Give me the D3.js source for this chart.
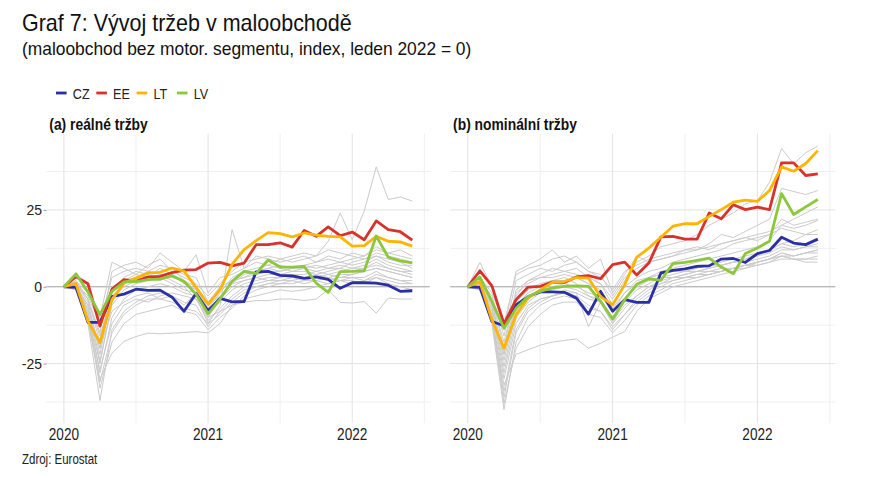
<!DOCTYPE html>
<html>
<head>
<meta charset="utf-8">
<script src="https://cdn.jsdelivr.net/npm/d3@7"></script>
<style>
  html, body { margin: 0; padding: 0; background: #fff; }
  text { font-family: "Liberation Sans", Arial, Helvetica, sans-serif; }
</style>
</head>
<body>
<svg id="chart" width="870" height="478"></svg>
<script>
// ---------- data ----------
const months = ["2020-01","2020-02","2020-03","2020-04","2020-05","2020-06","2020-07","2020-08","2020-09","2020-10","2020-11","2020-12",
                "2021-01","2021-02","2021-03","2021-04","2021-05","2021-06","2021-07","2021-08","2021-09","2021-10","2021-11","2021-12",
                "2022-01","2022-02","2022-03","2022-04","2022-05","2022-06"];
const yearTicks = ["2020-01","2021-01","2022-01"];
const yearLabels = ["2020","2021","2022"];
const halfYearTicks = ["2020-07","2021-07","2022-07"];
const yTicks = [-25, 0, 25];
const yMinor = [-37.5, -12.5, 12.5, 37.5];

const countries = ["CZ","EE","LT","LV"];
const colors = ["#2b2fa6","#d8322b","#ffb400","#8cc83c"];
const panelTitles = ["(a) reálné tržby", "(b) nominální tržby"];

// (a) real sales
const realCZ = [0,-0.2,-11.6,-11.6,-3.2,-2.4,-0.8,-1.2,-1.1,-3.4,-8.0,-2.2,-7.8,-3.8,-4.9,-4.8,4.8,5.0,3.7,3.5,2.7,3.2,2.4,-0.5,1.3,1.3,1.2,0.5,-1.5,-1.3];
const realEE = [0,3.3,1.0,-12.8,-0.8,2.3,1.8,3.2,3.4,4.6,5.4,5.6,7.7,7.9,6.8,7.7,13.7,13.7,14.3,12.9,18.3,16.4,19.5,16.6,17.8,15.3,21.4,18.6,17.9,15.2];
const realLT = [0,1.0,-11.2,-18.2,-4.2,1.2,2.8,4.5,4.7,6.1,5.1,-0.2,-5.7,-0.9,7.3,12.1,15.0,17.6,17.3,16.2,17.5,16.8,16.4,16.2,13.2,13.4,16.4,14.8,14.6,13.2];
const realLV = [0,4.2,-1.7,-9.1,-1.5,1.6,1.7,2.3,2.5,3.6,1.7,-2.4,-8.8,-4.0,1.8,5.0,4.3,8.7,6.4,6.4,6.6,1.2,-1.8,4.9,5.0,5.2,16.5,9.6,8.4,7.8];
const realOthers = [
  [0,1,-8,-25,-5,2,4,3,6,4,2,-3,-12,-6,18.6,6,8,7,9,10,11,10,14.8,24,15.3,24.6,39,28.4,29.2,27.9],
  [0,-1,-10,-30,-21.6,-17.8,-16.2,-15.1,-15.3,-15.1,-14.9,-14.6,-15,-12,-6,-4,-3,-2,-1,-1.5,-1,0,1,2,2,1,3,2,1,1],
  [0,0.5,-6,-20,-8,-5,-3,-2,-4,-3,-6,-2,-10,-8,-6,-5,-4.5,-4.5,-4,-4,-4.5,-4,-1,-5.1,-5.3,-4.8,-8.6,-3.7,-4,-4],
  [0,2,-4,-15,5,7,8,6,11,8,5,10.4,-2,3,4,6,10,9,8,9,10,8,10,9,11,10,12,11,10,9],
  [0,1,-5,-22,-2,3,5,4,5,6,4,3,-5,0,2,3,5,6,5,6,7,6,7,8,7,8,10,8,7,7],
  [0,0,-8,-28,-10,-4,-1,0,1,0,-2,-3,-9,-5,-1,1,2,3,3,4,4,5,4,5,6,6,8,6,5,5],
  [0,1,-3,-12,3,5,6,5,7,6,2,-1,-7,-2,3,5,6,7,6,5,6,7,6,6,8,9,10,9,8,6],
  [0,-0.5,-12,-37,-14,-8,-5,-3,-2,-3,-5,-6,-13,-8,-4,-1,0,1,2,2,3,3,4,3,4,5,6,5,4,3],
  [0,1.5,-4,-18,0,2,3,2,4,2,0,-4,-10,-4,0,2,3,4,4,5,5,4,5,6,5,6,7,6,5,4],
  [0,0.5,-9,-33,-18,-12,-9,-8,-7,-6,-8,-9,-14,-10,-7,-3,-1,0,1,1,2,2,3,2,3,3,5,3,2,1],
  [0,2,-2,-10,8,6,4,7,9,5,3,1,-3,1,5,8,9,10,9,8,9,10,12,11,10,9,11,10,9,8],
  [0,0,-6,-24,-6,-1,1,2,3,1,-1,-2,-6,-3,1,2,3,2,3,4,3,4,3,4,4,5,6,5,4,3],
  [0,1,-10,-27,-12,-6,-4,-5,-3,-2,-3,-4,-11,-7,-3,0,1,2,2,3,2,3,2,3,3,2,4,3,2,2],
  [0,0.5,-7,-20,-4,0,2,3,2,4,1,-1,-8,-3,1,4,5,6,7,6,7,8,9,8,9,10,13,11,12,10],
  [0,1,-4,-16,-3,1,3,5,4,3,2,0,-5,-1,2,3,4,5,5,6,6,5,6,7,6,7,9,7,6,5],
  [0,-1,-11,-31,-15,-9,-6,-4,-4,-5,-7,-8,-12,-9,-5,-2,0,1,1,2,1,2,1,2,1,2,3,1,0,-1]
];

// (b) nominal sales
const nomCZ = [0,-0.2,-11.3,-12.7,-5.9,-3.2,-1.7,-1.7,-1.8,-3.7,-8.9,-1.5,-8.0,-4.2,-5.1,-5.1,4.5,5.3,5.8,6.6,6.8,9.0,9.2,7.9,10.8,11.8,16.1,14.2,13.7,15.5];
const nomEE = [0,5.2,0.3,-12.1,-4.2,-0.1,0.1,1.5,1.4,3.2,3.6,2.6,7.2,8.0,3.8,7.7,16.2,16.4,15.5,15.5,24.0,22.1,26.7,25.1,25.9,25.1,40.3,40.3,36.2,36.7];
const nomLT = [0,1.7,-10.8,-20.0,-9.1,-3.7,-1.0,1.4,1.7,3.0,2.8,-3.2,-5.9,0.7,9.6,12.6,16.1,19.7,20.5,20.5,22.9,25.1,27.5,28.2,27.8,31.3,39.0,37.6,40.1,44.3];
const nomLV = [0,3.2,-4.8,-13.5,-7.0,-3.2,-1.5,-0.4,0.1,0.3,0.1,-4.8,-10.5,-4.2,0.8,2.6,2.1,7.5,7.9,8.6,9.3,6.4,4.2,10.8,12.6,14.8,30.3,23.5,26.0,28.4];
const nomOthers = [
  [0,2,-6,-22,-3,2,4,6,5,4,3,1,-4,2,8,10,13,14,15,17,20,22,24,27,28,34,45,40,43.6,45.8],
  [0,-1,-10,-32,-22,-20.5,-19,-18,-17.5,-17,-20,-18.4,-16.4,-14.6,-8,-4,-2,0,1,2,3,4,5,6,8,9,11,10,11,12],
  [0,7.9,0,-14,5,7,9,12,8,10,6,9,-2,4,10,8,9,10,12,12,14,17,16,18,20,22,32,31,30,31.3],
  [0,1,-5,-24,-6,-2,0,2,3,1,-3,-5,-12,-4,1,3,5,6,7,8,9,10,11,12,13,15,20,22,24,26],
  [0,0.5,-9,-36,-15,-8,-5,-3,-2,-3,-6,-8,-14,-9,-4,-1,1,3,4,5,6,7,8,9,11,12,14,15,17,18.6],
  [0,2,-3,-16,2,4,6,5,7,8,5,4,-3,3,6,8,9,10,11,12,13,14,15,16,17,18,20,19,20,21.6],
  [0,1,-7,-28,-10,-5,-2,-1,0,-1,-3,-4,-10,-5,-1,1,3,4,5,5,6,7,8,8,9,10,12,12,13,13],
  [0,-0.5,-12,-40,-18,-10,-6,-4,-3,-4,-7,-8,-13,-9,-5,-2,0,2,3,4,4,5,6,7,8,9,11,10,11,11],
  [0,1.5,-4,-20,-1,2,3,3,4,3,1,-2,-8,-2,2,3,4,5,5,6,7,7,8,9,10,11,13,12,13,14],
  [0,0,-8,-30,-12,-6,-4,-3,-2,-2,-4,-5,-11,-6,-3,0,1,2,3,3,4,5,6,6,7,8,10,9,9,10],
  [0,3,-2,-12,4,6,7,9,10,8,5,3,-1,5,7,9,10,11,12,13,12,14,15,16,15,17,19,18,17,17],
  [0,0.5,-6,-26,-8,-3,-1,0,1,0,-2,-3,-8,-4,0,2,3,3,4,5,5,6,6,7,7,8,9,9,8,8],
  [0,1,-10,-34,-14,-7,-4,-3,-1,-2,-13,-5,-12,-7,-3,0,2,3,3,4,5,5,6,7,8,9,10,10,11,12],
  [0,1,-5,-18,-2,1,3,4,5,6,3,1,-6,0,3,5,6,8,9,10,11,12,14,15,16,17,22,20,21,22],
  [0,0,-7,-22,-5,-1,1,2,2,3,1,-1,-7,-2,1,3,4,5,6,7,7,8,9,10,11,12,14,13,14,15],
  [0,-1,-11,-38,-20,-13,-9,-6,-5,-5,-9,-10,-15,-11,-6,-3,-1,1,2,3,4,5,6,7,8,9,10,9,9,9]
];

// ---------- layout ----------
const svg = d3.select("#chart");
svg.append("rect").attr("width", 870).attr("height", 478).attr("fill", "#fff");

// condensed text helper (the reference type is narrower than Arial)
function label(parent, x, y, txt, size, sx, weight) {
  return parent.append("text")
    .attr("transform", `translate(${x},${y}) scale(${sx},1)`)
    .attr("font-size", size)
    .attr("font-weight", weight || "normal")
    .attr("fill", "#111")
    .text(txt);
}

label(svg, 22, 31, "Graf 7: Vývoj tržeb v maloobchodě", 23, 0.935);
label(svg, 22, 55, "(maloobchod bez motor. segmentu, index, leden 2022 = 0)", 19.2, 0.905);

// legend
const legend = svg.append("g");
let lx = 56;
countries.forEach((c, i) => {
  legend.append("line").attr("x1", lx).attr("x2", lx + 10.6)
    .attr("y1", 93).attr("y2", 93)
    .attr("stroke", colors[i]).attr("stroke-width", 2.8);
  label(legend, lx + 16.8, 98.5, c, 15, 0.84).attr("fill", "#222");
  lx += 40.3;
});

const y = d3.scaleLinear().domain([-44.4, 49.8]).range([423.2, 133.7]);

const panels = [
  { title: panelTitles[0], range: [46.5, 429.7], main: [realCZ, realEE, realLT, realLV], others: realOthers, yAxis: true },
  { title: panelTitles[1], range: [450.3, 835.3], main: [nomCZ, nomEE, nomLT, nomLV], others: nomOthers, yAxis: false }
];

function idxOf(m) {
  const i = months.indexOf(m);
  return i >= 0 ? i : months.length; // 2022-07 lies one step past the last month
}

panels.forEach(p => {
  const xi = d3.scaleLinear().domain([-1.45, months.length - 1 + 1.45]).range(p.range);
  const g = svg.append("g");
  const top = y.range()[1], bottom = y.range()[0];

  // minor grid
  g.selectAll("line.hmin").data(yMinor).join("line").attr("class", "hmin")
    .attr("x1", p.range[0]).attr("x2", p.range[1])
    .attr("y1", d => y(d)).attr("y2", d => y(d))
    .attr("stroke", "#efefef").attr("stroke-width", 1);
  g.selectAll("line.vmin").data(halfYearTicks).join("line").attr("class", "vmin")
    .attr("x1", d => xi(idxOf(d))).attr("x2", d => xi(idxOf(d)))
    .attr("y1", top).attr("y2", bottom)
    .attr("stroke", "#efefef").attr("stroke-width", 1);
  // major grid
  g.selectAll("line.hm").data(yTicks).join("line").attr("class", "hm")
    .attr("x1", p.range[0]).attr("x2", p.range[1])
    .attr("y1", d => y(d)).attr("y2", d => y(d))
    .attr("stroke", "#e3e3e3").attr("stroke-width", 1);
  g.selectAll("line.vM").data(yearTicks).join("line").attr("class", "vM")
    .attr("x1", d => xi(idxOf(d))).attr("x2", d => xi(idxOf(d)))
    .attr("y1", top).attr("y2", bottom)
    .attr("stroke", "#e3e3e3").attr("stroke-width", 1);

  // zero line
  g.append("line").attr("x1", p.range[0]).attr("x2", p.range[1])
    .attr("y1", y(0)).attr("y2", y(0))
    .attr("stroke", "#a8a8a8").attr("stroke-width", 1.1);

  const line = d3.line().x((d, i) => xi(i)).y(d => y(d));

  g.selectAll("path.other").data(p.others).join("path").attr("class", "other")
    .attr("d", line).attr("fill", "none")
    .attr("stroke", "#cbcbcb").attr("stroke-width", 1);

  g.selectAll("path.main").data(p.main).join("path").attr("class", "main")
    .attr("d", line).attr("fill", "none")
    .attr("stroke", (d, i) => colors[i]).attr("stroke-width", 2.8)
    .attr("stroke-linejoin", "round");

  // x axis labels
  const xAxis = d3.axisBottom(d3.scalePoint().domain(months).range([xi(0), xi(months.length - 1)]))
    .tickValues(yearTicks)
    .tickFormat(d => yearLabels[yearTicks.indexOf(d)])
    .tickSize(0).tickPadding(4.8);
  const ax = svg.append("g").attr("transform", `translate(0,${bottom})`).call(xAxis);
  ax.select(".domain").remove();
  ax.selectAll("text").attr("font-size", 17).attr("fill", "#222")
    .attr("transform", "scale(0.8,1)")
    .style("font-family", '"Liberation Sans", Arial, sans-serif');
  ax.selectAll(".tick").attr("transform", d => `translate(${xi(idxOf(d))},0)`);

  if (p.yAxis) {
    const yAxis = d3.axisLeft(y).tickValues(yTicks).tickFormat(d => String(d))
      .tickSize(3).tickPadding(1.5);
    const ay = svg.append("g").attr("transform", `translate(${p.range[0]},0)`).call(yAxis);
    ay.select(".domain").remove();
    ay.selectAll("line").attr("stroke", "#999");
    ay.selectAll("text").attr("font-size", 14).attr("fill", "#222")
      .style("font-family", '"Liberation Sans", Arial, sans-serif');
  }

  label(svg, p.range[0] + 2.8, 130, p.title, 16.5, 0.84, "bold");
});

label(svg, 22, 464.3, "Zdroj: Eurostat", 14, 0.82).attr("fill", "#222");
</script>
</body>
</html>
